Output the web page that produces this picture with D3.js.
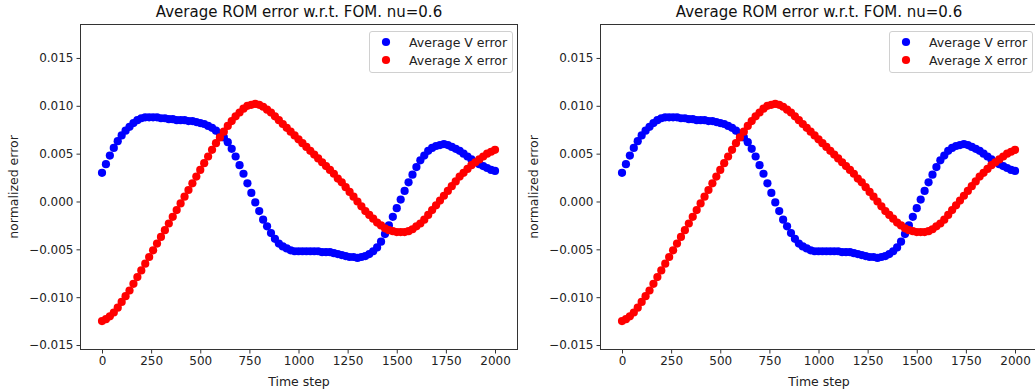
<!DOCTYPE html>
<html>
<head>
<meta charset="utf-8">
<script src="https://cdn.jsdelivr.net/npm/d3@7"></script>
<style>
  html, body { margin: 0; padding: 0; background: #fff; }
  svg { display: block; }
</style>
</head>
<body>
<svg id="chart" width="1035" height="392"></svg>
<script>
const title = "Average ROM error w.r.t. FOM. nu=0.6";
const xLabel = "Time step";
const yLabel = "normalized error";
const seriesNames = ["Average V error", "Average X error"];
const seriesColors = ["#0000ff", "#ff0000"];
const xTicks = [0, 250, 500, 750, 1000, 1250, 1500, 1750, 2000];
const yTicks = [-0.015, -0.010, -0.005, 0.000, 0.005, 0.010, 0.015];

const timeSteps = [
  0,20,40,60,80,100,120,140,160,180,200,220,240,260,280,300,320,340,360,380,
  400,420,440,460,480,500,520,540,560,580,600,620,640,660,680,700,720,740,760,780,
  800,820,840,860,880,900,920,940,960,980,1000,1020,1040,1060,1080,1100,1120,1140,1160,1180,
  1200,1220,1240,1260,1280,1300,1320,1340,1360,1380,1400,1420,1440,1460,1480,1500,1520,1540,1560,1580,
  1600,1620,1640,1660,1680,1700,1720,1740,1760,1780,1800,1820,1840,1860,1880,1900,1920,1940,1960,1980,2000
];

const vError = [
  0.0030,0.0039,0.0048,0.0056,0.0063,0.0069,0.0074,0.0078,0.0082,0.0085,
  0.0087,0.0088,0.0088,0.0088,0.0088,0.0087,0.0087,0.0086,0.0086,0.0085,
  0.0085,0.0085,0.0084,0.0084,0.0083,0.0082,0.0081,0.0079,0.0077,0.0074,
  0.0071,0.0067,0.0062,0.0055,0.0047,0.0038,0.0029,0.0019,0.0009,-0.0001,
  -0.0010,-0.0019,-0.0026,-0.0033,-0.0039,-0.0044,-0.0047,-0.0049,-0.0051,-0.0052,
  -0.0052,-0.0052,-0.0052,-0.0052,-0.0052,-0.0052,-0.0053,-0.0053,-0.0053,-0.0054,
  -0.0055,-0.0056,-0.0057,-0.0058,-0.0058,-0.0059,-0.0058,-0.0057,-0.0055,-0.0052,
  -0.0048,-0.0042,-0.0034,-0.0025,-0.0016,-0.0007,0.0002,0.0011,0.0020,0.0028,
  0.0036,0.0043,0.0048,0.0053,0.0056,0.0058,0.0059,0.0060,0.0059,0.0057,
  0.0055,0.0053,0.0050,0.0047,0.0044,0.0041,0.0039,0.0037,0.0035,0.0033,0.0032
];

const xError = [
  -0.0125,-0.0123,-0.0120,-0.0116,-0.0111,-0.0105,-0.0099,-0.0093,-0.0086,-0.0079,
  -0.0072,-0.0065,-0.0058,-0.0051,-0.0044,-0.0037,-0.0030,-0.0023,-0.0016,-0.0009,
  -0.0002,0.0005,0.0012,0.0019,0.0026,0.0033,0.0040,0.0047,0.0054,0.0061,
  0.0067,0.0073,0.0079,0.0084,0.0089,0.0093,0.0097,0.0100,0.0101,0.0102,
  0.0101,0.0099,0.0096,0.0093,0.0089,0.0085,0.0081,0.0077,0.0073,0.0069,
  0.0065,0.0061,0.0057,0.0053,0.0049,0.0045,0.0041,0.0037,0.0033,0.0029,
  0.0024,0.0020,0.0015,0.0010,0.0005,0.0000,-0.0005,-0.0010,-0.0014,-0.0018,
  -0.0022,-0.0025,-0.0028,-0.0030,-0.0031,-0.0032,-0.0032,-0.0032,-0.0031,-0.0029,
  -0.0026,-0.0023,-0.0019,-0.0014,-0.0009,-0.0004,0.0001,0.0006,0.0011,0.0016,
  0.0021,0.0026,0.0030,0.0034,0.0038,0.0041,0.0044,0.0047,0.0050,0.0052,0.0054
];

const panelOffsets = [0, 520];

const svg = d3.select("#chart");
const FONT = "'DejaVu Sans', sans-serif";
const fmtY = v => d3.format(".3f")(v).replace("-", "\u2212");

function drawPanel(ox) {
  const left = 80 + ox, right = 518 + ox, top = 24, bottom = 350;
  const x = d3.scaleLinear().domain([-112, 2117]).range([left, right]);
  const y = d3.scaleLinear().domain([-0.01552, 0.01855]).range([bottom, top]);
  const g = svg.append("g");

  // title
  g.append("text").attr("x", (left + right) / 2).attr("y", 17)
    .attr("text-anchor", "middle").attr("font-family", FONT).attr("font-size", 15)
    .attr("fill", "#111").text(title);

  // data points
  const series = [vError, xError];
  series.forEach((vals, si) => {
    g.append("g").selectAll("circle").data(timeSteps)
      .enter().append("circle")
      .attr("cx", (d) => x(d))
      .attr("cy", (d, i) => y(vals[i]))
      .attr("r", 4.1)
      .attr("fill", seriesColors[si]);
  });

  // axes
  const xAxis = d3.axisBottom(x).tickValues(xTicks).tickSize(3.5).tickPadding(3).tickFormat(d3.format("d"));
  const yAxis = d3.axisLeft(y).tickValues(yTicks).tickSize(3.5).tickPadding(3).tickFormat(fmtY);
  const gx = g.append("g").attr("transform", `translate(0,${bottom})`).call(xAxis);
  const gy = g.append("g").attr("transform", `translate(${left},0)`).call(yAxis);
  [gx, gy].forEach(a => {
    a.select(".domain").remove();
    a.selectAll("line").attr("stroke", "#333");
    a.selectAll("text").attr("font-family", FONT).attr("font-size", 12).attr("fill", "#222");
  });

  // frame
  g.append("rect").attr("x", left + 0.5).attr("y", top + 0.5)
    .attr("width", right - left - 1).attr("height", bottom - top - 1)
    .attr("fill", "none").attr("stroke", "#333").attr("stroke-width", 1);

  // axis labels
  g.append("text").attr("x", (left + right) / 2).attr("y", 386)
    .attr("text-anchor", "middle").attr("font-family", FONT).attr("font-size", 12.5)
    .attr("fill", "#222").text(xLabel);
  g.append("text").attr("transform", `translate(${ox + 18},${(top + bottom) / 2}) rotate(-90)`)
    .attr("text-anchor", "middle").attr("font-family", FONT).attr("font-size", 12.5)
    .attr("fill", "#222").text(yLabel);

  // legend
  const lg = g.append("g").attr("transform", `translate(${369 + ox},31)`);
  lg.append("rect").attr("x", 0.5).attr("y", 0.5).attr("width", 143).attr("height", 41)
    .attr("rx", 2.5).attr("fill", "#fff").attr("fill-opacity", 0.8)
    .attr("stroke", "#d0d0d0");
  seriesNames.forEach((name, i) => {
    lg.append("circle").attr("cx", 17).attr("cy", 11 + i * 18).attr("r", 4.1).attr("fill", seriesColors[i]);
    lg.append("text").attr("x", 40).attr("y", 15.5 + i * 18)
      .attr("font-family", FONT).attr("font-size", 12.5).attr("fill", "#222").text(name);
  });
}

panelOffsets.forEach(drawPanel);
</script>
</body>
</html>
